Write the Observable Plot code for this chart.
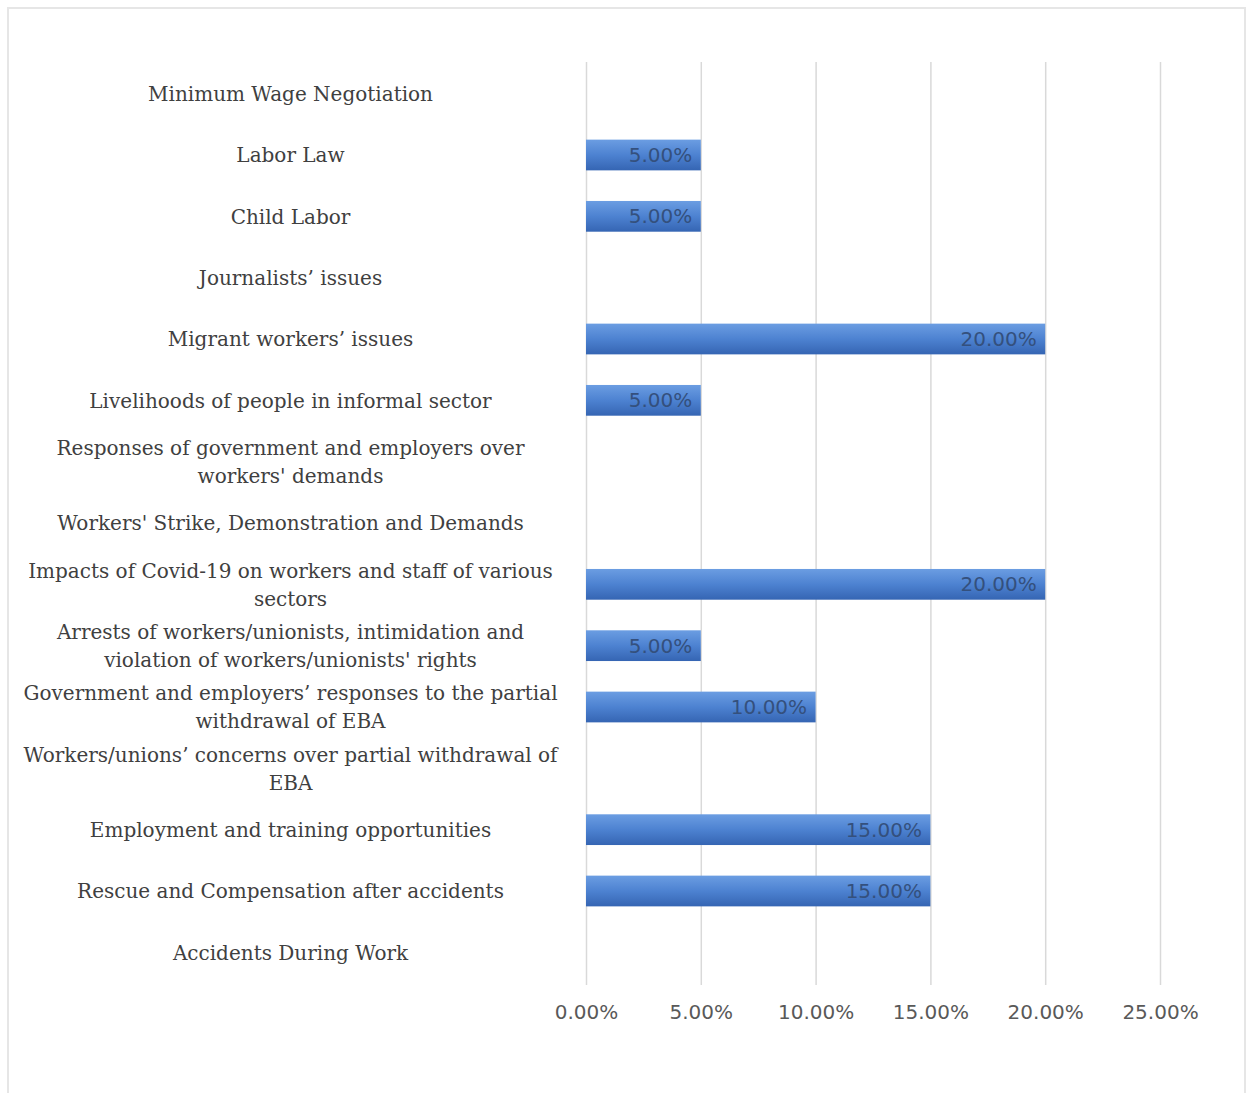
<!DOCTYPE html>
<html>
<head>
<meta charset="utf-8">
<script src="https://cdn.jsdelivr.net/npm/d3@7"></script>
<script src="https://cdn.jsdelivr.net/npm/@observablehq/plot@0.6"></script>
<style>
  html, body { margin: 0; padding: 0; background: #fff; overflow: hidden; }
  #wrap { position: relative; width: 1250px; height: 1093px; }
  #frame { position: absolute; left: 7px; top: 7px; width: 1239px; height: 1100px;
           border: 2px solid #e6e6e6; box-sizing: border-box; }
  #chart { position: absolute; left: 0; top: 0; }
</style>
</head>
<body>
<div id="wrap"><div id="frame"></div><div id="chart"></div></div>
<script>
const categories = [
  "Minimum Wage Negotiation",
  "Labor Law",
  "Child Labor",
  "Journalists’ issues",
  "Migrant workers’ issues",
  "Livelihoods of people in informal sector",
  "Responses of government and employers over workers' demands",
  "Workers' Strike, Demonstration and Demands",
  "Impacts of Covid-19 on workers and staff of various sectors",
  "Arrests of workers/unionists, intimidation and violation of workers/unionists' rights",
  "Government and employers’ responses to the partial withdrawal of EBA",
  "Workers/unions’ concerns over partial withdrawal of EBA",
  "Employment and training opportunities",
  "Rescue and Compensation after accidents",
  "Accidents During Work"
];
const tickLabels = [
  "Minimum Wage Negotiation",
  "Labor Law",
  "Child Labor",
  "Journalists’ issues",
  "Migrant workers’ issues",
  "Livelihoods of people in informal sector",
  "Responses of government and employers over\nworkers' demands",
  "Workers' Strike, Demonstration and Demands",
  "Impacts of Covid-19 on workers and staff of various\nsectors",
  "Arrests of workers/unionists, intimidation and\nviolation of workers/unionists' rights",
  "Government and employers’ responses to the partial\nwithdrawal of EBA",
  "Workers/unions’ concerns over partial withdrawal of\nEBA",
  "Employment and training opportunities",
  "Rescue and Compensation after accidents",
  "Accidents During Work"
];
const values = [0, 0.05, 0.05, 0, 0.20, 0.05, 0, 0, 0.20, 0.05, 0.10, 0, 0.15, 0.15, 0];
const xTicks = [0, 0.05, 0.10, 0.15, 0.20, 0.25];

const data = categories.map((c, i) => ({category: c, value: values[i]}));
const labelOf = new Map(categories.map((c, i) => [c, tickLabels[i]]));
const pct = d3.format(".2%");

const plot = Plot.plot({
  width: 1250,
  height: 1093,
  marginLeft: 586,
  marginRight: 90,
  marginTop: 63,
  marginBottom: 110,
  style: {background: "transparent"},
  x: {domain: [0, 0.25]},
  y: {domain: categories, padding: 0, round: false},
  marks: [
    Plot.gridX(xTicks, {stroke: "#d9d9d9", strokeOpacity: 1, strokeWidth: 1.5, insetTop: -1, insetBottom: -2}),
    Plot.barX(data, {
      y: "category", x: "value",
      fill: "url(#barGrad)",
      insetTop: 15.3, insetBottom: 15.3
    }),
    Plot.text(data.filter(d => d.value > 0), {
      y: "category", x: "value",
      text: d => pct(d.value),
      textAnchor: "end", dx: -9,
      fill: "#34507d",
      fontSize: 20,
      fontFamily: "DejaVu Sans"
    }),
    Plot.axisX({
      ticks: xTicks, tickFormat: pct, tickSize: 0, tickPadding: 21,
      fontSize: 20, fontFamily: "DejaVu Sans", fill: "#595959", label: null
    }),
    Plot.axisY({
      tickSize: 0, tickPadding: 0, textAnchor: "middle", dx: -296, dy: -2,
      tickFormat: d => labelOf.get(d),
      fontSize: 20, fontFamily: "DejaVu Serif", fill: "#404040",
      lineHeight: 1.4, label: null
    })
  ]
});

const ns = "http://www.w3.org/2000/svg";
const defs = document.createElementNS(ns, "defs");
defs.innerHTML = `<linearGradient id="barGrad" x1="0" y1="0" x2="0" y2="1">
  <stop offset="0" stop-color="#6b9de2"/>
  <stop offset="0.5" stop-color="#4d82d1"/>
  <stop offset="1" stop-color="#3565b3"/>
</linearGradient>`;
plot.insertBefore(defs, plot.firstChild);
document.getElementById("chart").appendChild(plot);
</script>
</body>
</html>
